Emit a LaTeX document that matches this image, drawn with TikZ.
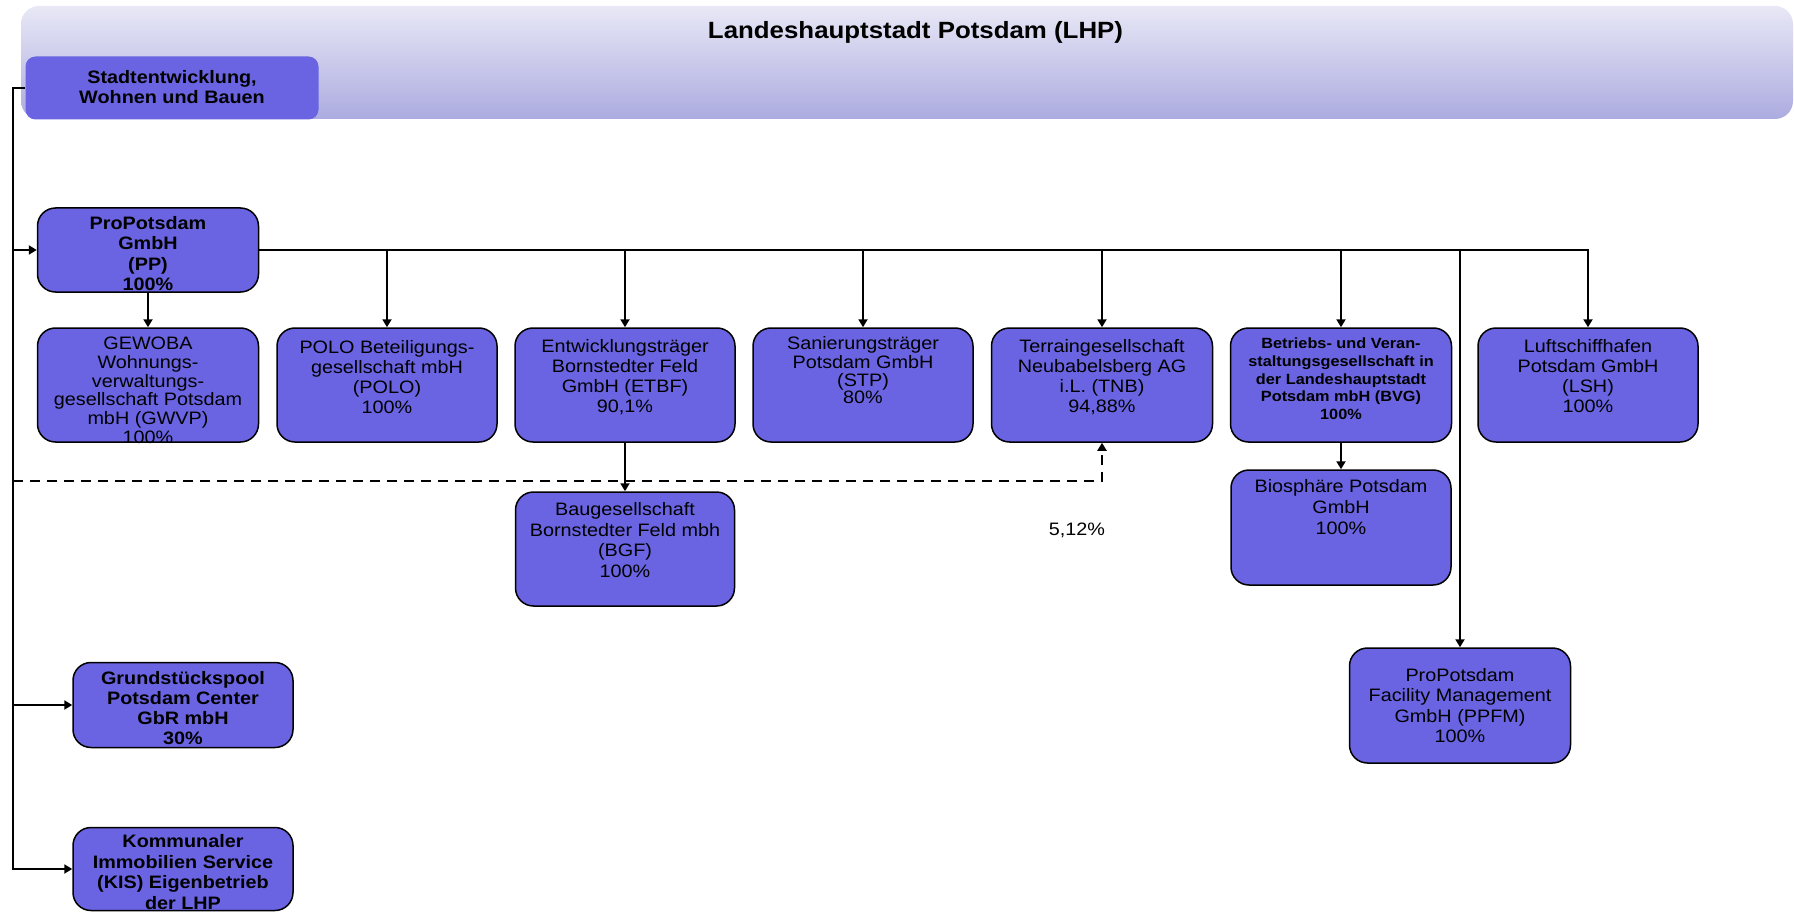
\documentclass[tikz,border=0pt]{standalone}
\usepackage{fontspec}
\setmainfont{Liberation Sans}[FakeStretch=1.1]
\usetikzlibrary{arrows.meta}
\definecolor{boxblue}{RGB}{106,100,226}
\definecolor{bantop}{RGB}{232,232,246}
\definecolor{banbot}{RGB}{172,171,224}
\newcommand{\bt}[4]{\parbox[c][#2pt][t]{#1pt}{\centering\vspace*{#3pt}\strut #4\par}}
\tikzset{
  orgbox/.style={draw=black, line width=1.5pt, fill=boxblue, rounded corners=18pt, inner sep=0pt},
  regf/.style={font=\fontsize{18}{#1}\selectfont},
  boldf/.style={font=\bfseries\fontsize{18}{#1}\selectfont},
  arr/.style={line width=2pt, -{Triangle[length=8pt,width=9pt]}},
  dsh/.style={line width=2pt, dash pattern=on 10pt off 7pt, -{Triangle[length=8pt,width=9pt]}}
}
\begin{document}
\begin{tikzpicture}[x=1pt,y=-1pt]
\useasboundingbox (0,0) rectangle (1794,912);
% banner
\node[shape=rectangle, rounded corners=18pt, top color=bantop, bottom color=banbot, draw=none,
      minimum width=1772pt, minimum height=113pt, inner sep=0pt] (lhp) at (907,62.5) {};
\node[font=\bfseries\fontsize{23.5}{28}\selectfont, anchor=base, inner sep=0pt] (title) at (915.5,39) {Landeshauptstadt Potsdam (LHP)};
\node[fill=boxblue, rounded corners=10pt, inner sep=0pt, boldf=20] (ste) at (172,88)
  {\bt{293}{63}{13}{Stadtentwicklung,\\Wohnen und Bauen}};

% first level
\node[orgbox, boldf=20] (pp) at (148,250) {\bt{221}{84}{8}{ProPotsdam\\GmbH\\(PP)\\100\%}};

% second row
\node[orgbox, regf=18.6] (gwvp) at (148,385) {\bt{221}{114}{8}{GEWOBA\\Wohnungs-\\verwaltungs-\\gesellschaft Potsdam\\mbH (GWVP)\\100\%}};
\node[orgbox, regf=20] (polo) at (387,385) {\bt{220}{114}{11}{POLO Beteiligungs-\\gesellschaft mbH\\(POLO)\\100\%}};
\node[orgbox, regf=20] (etbf) at (625,385) {\bt{220}{114}{10}{Entwicklungsträger\\Bornstedter Feld\\GmbH (ETBF)\\90,1\%}};
\node[orgbox, regf=17.7] (stp) at (863,385) {\bt{220}{114}{8}{Sanierungsträger\\Potsdam GmbH\\(STP)\\80\%}};
\node[orgbox, regf=20] (tnb) at (1102,385) {\bt{221}{114}{10}{Terraingesellschaft\\Neubabelsberg AG\\i.L. (TNB)\\94,88\%}};
\node[orgbox, font=\bfseries\fontsize{14.8}{17.6}\selectfont] (bvg) at (1341,385) {\bt{221}{114}{8.5}{Betriebs- und Veran-\\staltungsgesellschaft in\\der Landeshauptstadt\\Potsdam mbH (BVG)\\100\%}};
\node[orgbox, regf=20] (lsh) at (1588,385) {\bt{220}{114}{10}{Luftschiffhafen\\Potsdam GmbH\\(LSH)\\100\%}};

% third row
\node[orgbox, regf=20.7] (bgf) at (625,549) {\bt{219}{114}{9}{Baugesellschaft\\Bornstedter Feld mbh\\(BGF)\\100\%}};
\node[orgbox, regf=21] (bio) at (1341,527.5) {\bt{220}{115}{8}{Biosphäre Potsdam\\GmbH\\100\%}};
\node[orgbox, regf=20.5] (ppfm) at (1460,705.5) {\bt{221}{115}{19}{ProPotsdam\\Facility Management\\GmbH (PPFM)\\100\%}};

% left column
\node[orgbox, boldf=20] (gpc) at (183,705) {\bt{220}{85}{8}{Grundstückspool\\Potsdam Center\\GbR mbH\\30\%}};
\node[orgbox, boldf=20.5] (kis) at (183,869) {\bt{220}{83}{6}{Kommunaler\\Immobilien Service\\(KIS) Eigenbetrieb\\der LHP}};

\node[regf=20, inner sep=0pt] (pct) at (1077,530) {5,12\%};

% connectors
\coordinate (spine) at (13,88);
\coordinate (dashy) at (13,481);
\draw[arr] (ste.west) -- (spine) |- (kis.west);
\draw[arr] (spine |- pp.west) -- (pp.west);
\draw[arr] (spine |- gpc.west) -- (gpc.west);
\draw[dsh] (dashy) -| (tnb.south);

\draw[arr] (pp.east) -| (lsh.north);
\foreach \n in {polo,etbf,stp,tnb,bvg,ppfm}
  \draw[arr] (pp.east -| \n.north) -- (\n.north);
\draw[arr] (pp.south) -- (gwvp.north);
\draw[arr] (etbf.south) -- (bgf.north);
\draw[arr] (bvg.south) -- (bio.north);
\end{tikzpicture}
\end{document}
